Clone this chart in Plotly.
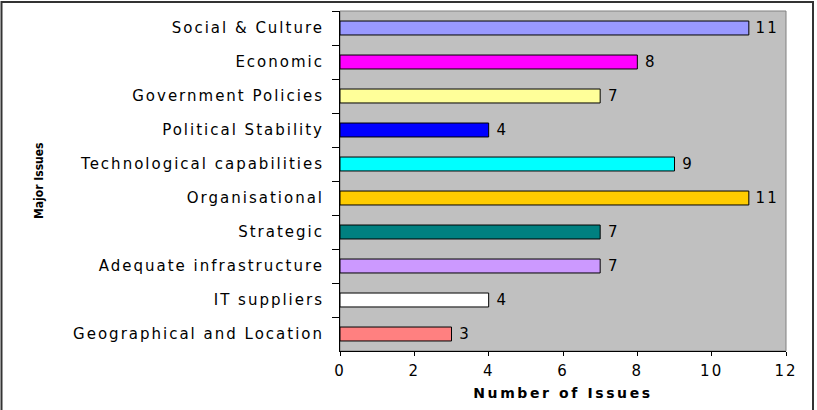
import plotly.graph_objects as go

categories = ["Social & Culture", "Economic", "Government Policies", "Political Stability",
              "Technological capabilities", "Organisational", "Strategic",
              "Adequate infrastructure", "IT suppliers", "Geographical and Location"]
values = [11, 8, 7, 4, 9, 11, 7, 7, 4, 3]
colors = ["#9999FF", "#FF00FF", "#FFFF99", "#0000FF", "#00FFFF", "#FFCC00",
          "#008080", "#CC99FF", "#FFFFFF", "#FF8080"]
x_ticks = [0, 2, 4, 6, 8, 10, 12]

W, H = 817, 410
ml, mr, mt, mb = 340, 31, 11, 59
pw, ph = W - ml - mr, H - mt - mb

def px_x(p):
    return (p - ml) / pw

def px_y(p):
    return (H - mb - p) / ph

FONT = "DejaVu Sans, Liberation Sans, Arial, sans-serif"

fig = go.Figure(go.Bar(
    x=values, y=categories, orientation="h",
    marker=dict(color=colors, line=dict(color="#000000", width=1)),
    width=0.41,
    text=["\u00a0" + str(v) for v in values], textposition="outside",
    constraintext="none",
    textfont=dict(family=FONT, size=15, color="#000000"),
    cliponaxis=False,
))

fig.update_layout(
    width=W, height=H,
    margin=dict(l=ml, r=mr, t=mt, b=mb, pad=0),
    paper_bgcolor="#FFFFFF", plot_bgcolor="#C0C0C0",
    showlegend=False,
    font=dict(family=FONT, color="#000000"),
    xaxis=dict(range=[0, 12], tickvals=x_ticks, ticks="outside", ticklen=4,
               tickcolor="#000000", showline=True, linecolor="#000000", linewidth=1,
               showgrid=False, zeroline=False, tickfont=dict(size=15),
               ticklabelstandoff=2,
               title=dict(text="<b>Number of Issues</b>", font=dict(size=14), standoff=9)),
    yaxis=dict(autorange="reversed", ticks="outside", ticklen=7, tickcolor="#000000",
               tickson="boundaries",
               showline=True, linecolor="#000000", linewidth=1, showgrid=False,
               tickfont=dict(size=15), ticklabelstandoff=12),
    shapes=[
        dict(type="rect", xref="paper", yref="paper", x0=0, x1=1, y0=0, y1=1,
             line=dict(color="#808080", width=1), layer="below"),
        dict(type="rect", xref="paper", yref="paper",
             x0=px_x(1.5), x1=px_x(813), y0=px_y(420), y1=px_y(2),
             line=dict(color="#333333", width=2), fillcolor="rgba(0,0,0,0)"),
    ],
    annotations=[
        dict(text="<b>Major Issues</b>", textangle=-90, xref="paper", yref="paper",
             x=px_x(30), y=0.5, showarrow=False,
             font=dict(family="Liberation Sans Narrow, DejaVu Sans Condensed, sans-serif", size=12)),
    ],
)

post = """
var s = document.createElement('style');
s.textContent = '.ytick text{letter-spacing:2px}' +
  '.xtick text{letter-spacing:2px}' +
  '.g-xtitle text{letter-spacing:2.6px}' +
  '.barlayer text{letter-spacing:2px}';
document.head.appendChild(s);
"""

fig.write_html("out.html", post_script=post)
